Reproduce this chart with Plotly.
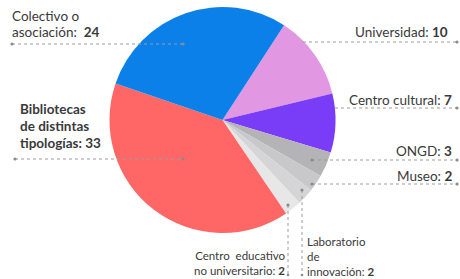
import plotly.graph_objects as go

categories = ["Universidad", "Centro cultural", "ONGD", "Museo",
              "Laboratorio de innovación", "Centro educativo no universitario",
              "Bibliotecas de distintas tipologías", "Colectivo o asociación"]
values = [10, 7, 3, 2, 2, 2, 33, 24]
colors = ["#E197E1", "#7A3DF7", "#B4B4B7", "#C8C8CA", "#D5D5D7", "#E7E7E7",
          "#FF6666", "#0B80E8"]

W, H = 460, 279
FONT = "Lato"
TXT = "#3a3a3a"


def px(x):
    return x / W


def py(y):
    return 1 - y / H


cx, cy, r = 222.5, 120, 113

fig = go.Figure(go.Pie(
    labels=categories, values=values, sort=False, direction="clockwise",
    rotation=33, textinfo="none", hoverinfo="label+value",
    marker=dict(colors=colors, line=dict(width=0)),
    domain=dict(x=[px(cx - r), px(cx + r)], y=[py(cy + r), py(cy - r)]),
    showlegend=False,
))

shapes = []
lc = "#9c9c9c"


def line(x0, y0, x1, y1):
    shapes.append(dict(type="line", xref="paper", yref="paper",
                       x0=px(x0), y0=py(y0), x1=px(x1), y1=py(y1),
                       line=dict(color=lc, width=1, dash="dot"), layer="above"))


def dot(x, y, rr=1.6):
    shapes.append(dict(type="circle", xref="paper", yref="paper",
                       x0=px(x - rr), x1=px(x + rr), y0=py(y + rr), y1=py(y - rr),
                       fillcolor="#8a8a8a", line=dict(width=0), layer="above"))


line(12, 44, 183, 44); dot(12, 44); dot(183, 44)
line(15, 159, 183, 159); dot(15, 159); dot(183, 159)
line(303, 42, 457, 42); dot(457, 42)
line(335, 108, 457, 108); dot(457, 108)
line(312, 160, 457, 160); dot(312, 160); dot(457, 160)
line(312, 184, 457, 184); dot(312, 184); dot(457, 184)
line(302, 190, 302, 275); dot(302, 190); dot(302, 275, 1.3)
line(288, 205, 288, 275); dot(288, 205); dot(288, 275, 1.3)

ann = []


def text(t, x, y, xa="left", size=13.5):
    ann.append(dict(text=t, x=px(x), y=py(y), xref="paper", yref="paper",
                    xanchor=xa, yanchor="middle", showarrow=False, borderpad=0,
                    align=xa, font=dict(family=FONT, size=size, color=TXT)))


text("Colectivo o", 11, 16)
text("asociación:  <b>24</b>", 11, 32)
text("<b>Bibliotecas</b>", 19, 109)
text("<b>de distintas</b>", 19, 126)
text("<b>tipologías: 33</b>", 19, 143)
text("Universidad: <b>10</b>", 449, 32, "right")
text("Centro cultural: <b>7</b>", 453, 100, "right")
text("ONGD: <b>3</b>", 453, 151, "right")
text("Museo: <b>2</b>", 453, 176, "right")
text("Laboratorio<br>de<br>innovación: <b>2</b>", 306, 256, size=11.5)
text("Centro  educativo<br>no universitario: <b>2</b>", 286, 263, "right", size=11.5)

fig.update_layout(width=W, height=H, margin=dict(l=0, r=0, t=0, b=0),
                  paper_bgcolor="white", plot_bgcolor="white",
                  shapes=shapes, annotations=ann)
fig.write_html("out.html", config={"displayModeBar": False},
               post_script="document.body.style.margin='0';"
                           "document.body.style.overflow='hidden';")
